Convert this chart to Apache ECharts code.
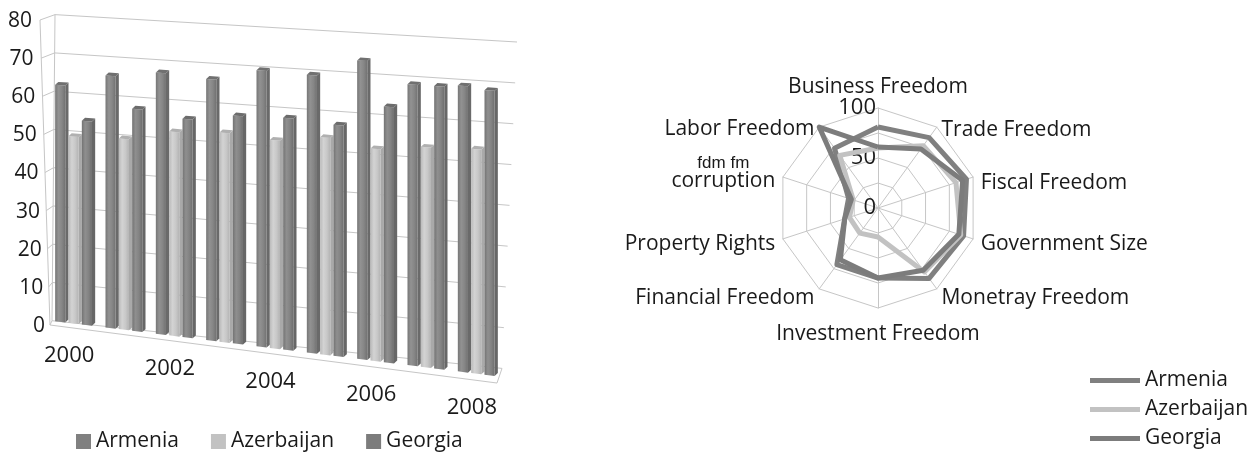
<!DOCTYPE html>
<html>
<head>
<meta charset="utf-8">
<script src="https://cdn.jsdelivr.net/npm/echarts@6/dist/echarts.min.js"></script>
<style>
  html, body { margin: 0; padding: 0; background: #ffffff; }
  #chart { width: 1257px; height: 456px; }
</style>
</head>
<body>
<div id="chart"></div>
<script>
// ---- Index of Economic Freedom, overall score by year ----
const years = ['2000', '2001', '2002', '2003', '2004', '2005', '2006', '2007', '2008'];
const armenia = [63.0, 66.4, 68.1, 67.3, 70.4, 70.1, 74.5, 69.4, 69.9];
const azerbaijan = [49.6, 50.1, 53.0, 53.8, 52.9, 54.6, 52.8, 54.2, 54.7];
const georgia = [54.0, 58.2, 56.6, 58.4, 58.8, 58.0, 63.5, 69.4, 69.2];
const yTicks = [0, 10, 20, 30, 40, 50, 60, 70, 80];

// ---- Components of the index (clockwise from the top) ----
const components = ['Business Freedom', 'Trade Freedom', 'Fiscal Freedom', 'Government Size',
  'Monetray Freedom', 'Investment Freedom', 'Financial Freedom', 'Property Rights',
  'corruption', 'Labor Freedom'];
const armeniaParts = [81, 87, 93, 90, 87, 70, 70, 35, 31, 74];
const azerbaijanParts = [60, 77, 82, 87, 79, 29, 31, 30, 26, 65];
const georgiaParts = [61, 73, 89, 85, 77, 70, 64, 35, 28, 100];
const countries = ['Armenia', 'Azerbaijan', 'Georgia'];

const FONT = '"Open Sans", sans-serif';
const TEXT = '#1a1a1a';
const GRID = '#c6c6c6';
const SHADES = {
  Armenia:    { base: '#808080', front: ['#767676', '#929292', '#868686', '#717171'], side: '#6a6a6a', top: '#707070' },
  Azerbaijan: { base: '#c2c2c2', front: ['#bababa', '#d3d3d3', '#c8c8c8', '#b3b3b3'], side: '#a9a9a9', top: '#b0b0b0' },
  Georgia:    { base: '#7c7c7c', front: ['#737373', '#8f8f8f', '#838383', '#6e6e6e'], side: '#676767', top: '#6c6c6c' }
};

// Tilt of the 3D column plot: offsets of the floor line (px) and growth of the
// vertical scale, both as [value at left edge, change across the plot width].
const TILT = {
  barBase: [-4.5, 56.5], barGain: [0.983, 0.0995],
  wallBase: [-4.5, 48], wallGain: [1.0038, 0.0694],
  floorFront: [0, 58.8],
  leftWallDepth: 10, backLeftLean: 3, backRightLean: 15
};

function tilt(cs, x, h, base, gain) {
  const f = (x - cs.x) / cs.width;
  const bottom = cs.y + cs.height;
  return [x, bottom + base[0] + base[1] * f - h * (gain[0] + gain[1] * f)];
}

function barRenderer(k, shade) {
  return function (params, api) {
    const cs = params.coordSys;
    const i = api.value(0), v = api.value(1);
    const p0 = api.coord([i, 0]);
    const p1 = api.coord([i, v]);
    const band = api.size([1, 0])[0];
    const slot = band * 0.265;
    const left = p0[0] + (k - 1.5) * slot;
    const fw = slot * 0.76, sw = slot - fw, dz = sw * 0.9;
    const h = p0[1] - p1[1];
    const A = tilt(cs, left, 0, TILT.barBase, TILT.barGain);
    const B = tilt(cs, left + fw, 0, TILT.barBase, TILT.barGain);
    const C = tilt(cs, left + fw, h, TILT.barBase, TILT.barGain);
    const D = tilt(cs, left, h, TILT.barBase, TILT.barGain);
    const B2 = [B[0] + sw, B[1] - dz], C2 = [C[0] + sw, C[1] - dz], D2 = [D[0] + sw, D[1] - dz];
    const grad = new echarts.graphic.LinearGradient(0, 0, 1, 0, shade.front.map((c, j) => ({ offset: j / (shade.front.length - 1), color: c })));
    return {
      type: 'group',
      children: [
        { type: 'polygon', shape: { points: [B, C, C2, B2] }, style: { fill: shade.side } },
        { type: 'polygon', shape: { points: [A, B, C, D] }, style: { fill: grad } },
        { type: 'polygon', shape: { points: [D, C, C2, D2] }, style: { fill: shade.top } }
      ]
    };
  };
}

// walls and floor of the column plot, one gridline (and its tick label) per tick value
function frameRenderer(params, api) {
  const cs = params.coordSys;
  const bottom = cs.y + cs.height;
  const yMax = yTicks[yTicks.length - 1];
  function pts(v) {
    const t = v / yMax;
    const yFlat = api.coord([0, v])[1];
    const h = bottom - yFlat;
    const front = [cs.x - TILT.leftWallDepth * t, yFlat];
    const backL = tilt(cs, cs.x + 2 + TILT.backLeftLean * t, h, TILT.wallBase, TILT.wallGain);
    const backR = tilt(cs, cs.x + cs.width - 1 + TILT.backRightLean * t, h, TILT.wallBase, TILT.wallGain);
    return [front, backL, backR];
  }
  const v = api.value(1);
  const t = v / yMax;
  const p = pts(v);
  const line = { stroke: GRID, lineWidth: 1, fill: null };
  const children = [
    { type: 'polyline', shape: { points: p }, style: line },
    {
      type: 'text', x: p[0][0] - 5 - 3 * t, y: p[0][1] + 1,
      style: { text: String(v), fill: TEXT, font: '21px ' + FONT, align: 'right', verticalAlign: 'middle' }
    }
  ];
  if (v === 0) {
    const top = pts(yMax);
    const fr = cs.x + cs.width - 6;
    const f = (fr - cs.x) / cs.width;
    const floorRight = [fr, bottom + TILT.floorFront[0] + TILT.floorFront[1] * f];
    children.push({ type: 'polyline', shape: { points: [p[0], floorRight, p[2]] }, style: line });
    children.push({ type: 'line', shape: { x1: top[0][0], y1: top[0][1], x2: p[0][0], y2: p[0][1] }, style: line });
    children.push({ type: 'line', shape: { x1: top[1][0], y1: top[1][1], x2: p[1][0], y2: p[1][1] }, style: line });
  }
  return { type: 'group', children: children };
}

function yearLabelRenderer(params, api) {
  const cs = params.coordSys;
  const i = api.value(0);
  if (i % 2 !== 0) return null;
  const c = api.coord([i, 0]);
  const f = (c[0] - cs.x) / cs.width;
  const y = cs.y + cs.height + TILT.floorFront[0] + TILT.floorFront[1] * f + 27;
  return {
    type: 'text', x: c[0] - 6, y: y,
    style: { text: years[i], fill: TEXT, font: '22px ' + FONT, align: 'center', verticalAlign: 'middle' }
  };
}

const barValues = { Armenia: armenia, Azerbaijan: azerbaijan, Georgia: georgia };
const partValues = { Armenia: armeniaParts, Azerbaijan: azerbaijanParts, Georgia: georgiaParts };

// ECharts lays radar indicators out counter-clockwise: keep the first one on top, reverse the rest
const radarOrder = [0].concat(components.map((_, i) => i).slice(1).reverse());

// vertical nudges of the component names (padding top, padding bottom)
const namePad = {
  'Business Freedom': [0, 0], 'Trade Freedom': [18, 0], 'Fiscal Freedom': [16, 0],
  'Government Size': [6, 0], 'Monetray Freedom': [6, 0], 'Investment Freedom': [8, 0],
  'Financial Freedom': [6, 0], 'Property Rights': [6, 0], 'Labor Freedom': [17, 0]
};
const nameRich = {
  small: { fontSize: 17, fontFamily: '"Liberation Sans", sans-serif', color: TEXT, align: 'center', lineHeight: 19 },
  big: { fontSize: 21, fontFamily: FONT, color: TEXT, lineHeight: 22, padding: [0, 0, 6, 0] }
};
components.forEach((n, i) => {
  if (namePad[n]) {
    nameRich['n' + i] = { fontSize: 21, fontFamily: FONT, color: TEXT, padding: [namePad[n][0], 0, namePad[n][1], 0] };
  }
});

const chart = echarts.init(document.getElementById('chart'), null, { renderer: 'canvas' });

const option = {
  backgroundColor: '#ffffff',
  animation: false,
  color: countries.map(c => SHADES[c].base),
  textStyle: { fontFamily: FONT },
  grid: { left: 50, top: 20, width: 453, height: 305 },
  xAxis: { type: 'category', data: years, show: false },
  yAxis: {
    type: 'value', min: 0, max: 80, interval: 10,
    axisLine: { show: false }, axisTick: { show: false }, splitLine: { show: false },
    axisLabel: { show: false }
  },
  legend: [
    {
      data: countries, left: 76, top: 431, icon: 'rect', itemWidth: 15, itemHeight: 15, itemGap: 32,
      padding: 0,
      textStyle: { fontSize: 21, color: TEXT, fontFamily: FONT }, selectedMode: false
    },
    {
      data: countries, left: 1090, top: 370, orient: 'vertical', icon: 'rect', itemWidth: 50, itemHeight: 5, itemGap: 8,
      padding: 0,
      textStyle: { fontSize: 21, color: TEXT, fontFamily: FONT, lineHeight: 21 }, selectedMode: false
    }
  ],
  radar: {
    center: [878, 208], radius: 100, startAngle: 90, splitNumber: 4, shape: 'polygon',
    nameGap: 8,
    indicator: radarOrder.map((idx, j) => {
      const ind = { name: components[idx], min: 0, max: 100 };
      if (j === 0) ind.axisLabel = { show: true };
      return ind;
    }),
    axisName: {
      color: TEXT, fontSize: 21, fontFamily: FONT,
      formatter: name => {
        if (name === 'corruption') return '{small|fdm fm}\n{big|corruption}';
        const i = components.indexOf(name);
        return nameRich['n' + i] ? '{n' + i + '|' + name + '}' : name;
      },
      rich: nameRich
    },
    axisLine: { lineStyle: { color: GRID, width: 1 } },
    splitLine: { lineStyle: { color: GRID, width: 1 } },
    splitArea: { show: false },
    axisTick: { show: false },
    axisLabel: {
      show: false, fontSize: 22, color: TEXT, fontFamily: FONT, margin: 2,
      formatter: v => (v % 50 === 0 ? String(v) : '')
    }
  },
  series: [
    {
      type: 'custom', name: 'frame', silent: true, z: 1,
      data: yTicks.map(v => [0, v]),
      renderItem: frameRenderer
    }
  ].concat(countries.map((c, k) => ({
    type: 'custom', name: c, z: 2,
    itemStyle: { color: SHADES[c].base },
    data: barValues[c].map((v, i) => [i, v]),
    renderItem: barRenderer(k, SHADES[c])
  }))).concat([
    {
      type: 'custom', name: 'years', silent: true, z: 2,
      data: years.map((y, i) => [i, 0]),
      renderItem: yearLabelRenderer
    },
    {
      type: 'radar', symbol: 'none', z: 3,
      data: countries.map(c => ({
        name: c,
        value: radarOrder.map(idx => partValues[c][idx]),
        lineStyle: { color: SHADES[c].base, width: 5 },
        itemStyle: { color: SHADES[c].base }
      }))
    }
  ])
};

chart.setOption(option);
</script>
</body>
</html>
